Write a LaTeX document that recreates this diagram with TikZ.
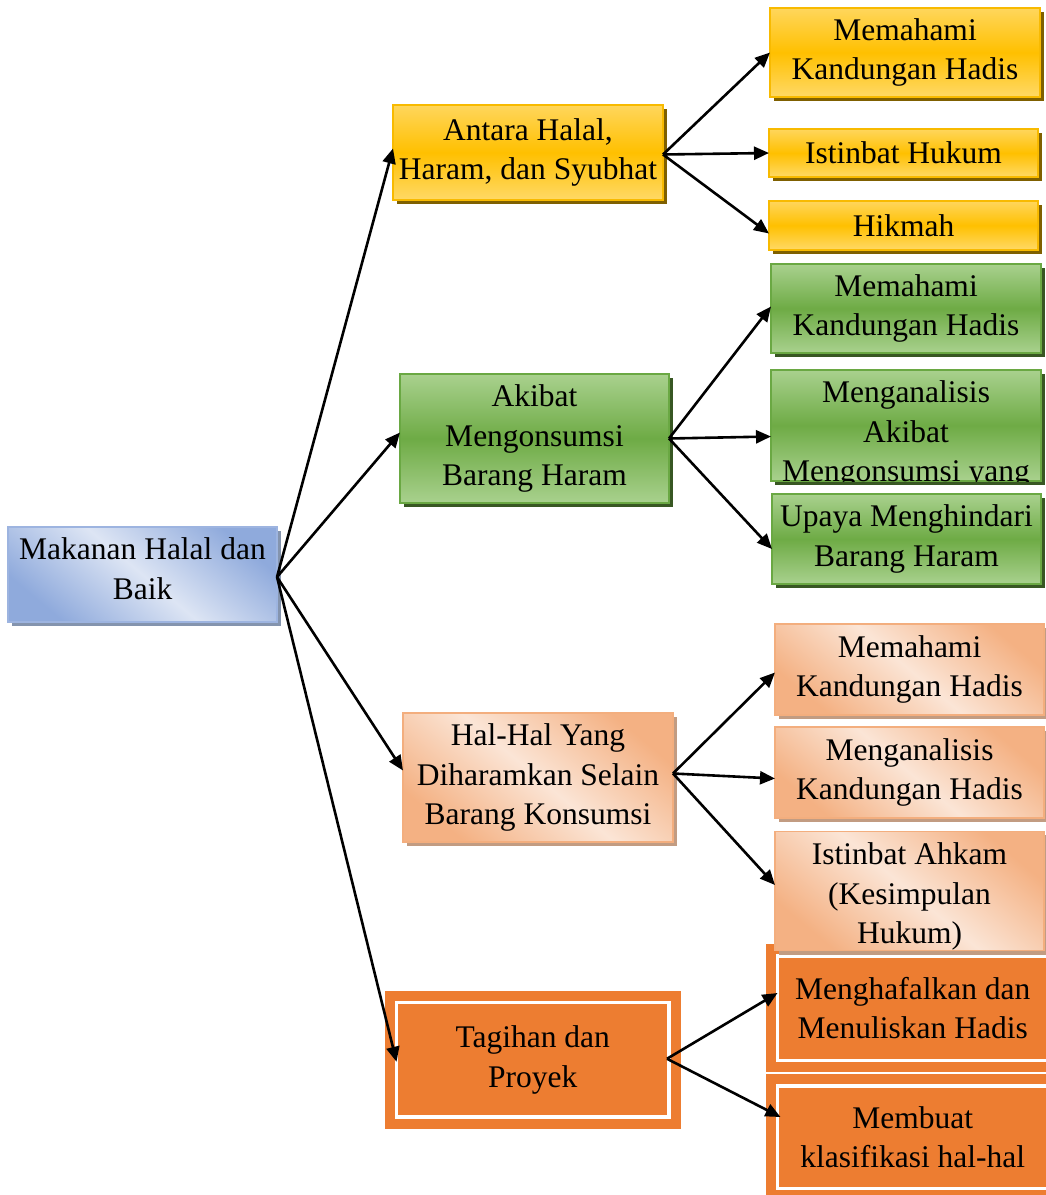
\documentclass[tikz,border=0pt]{standalone}
\usepackage{fontspec}
\setmainfont{Liberation Serif}
\usetikzlibrary{arrows.meta,shadows}

% palette
\definecolor{yelLight}{HTML}{FFD65C}
\definecolor{yelMid}{HTML}{FFC000}
\definecolor{yelLow}{HTML}{FFD966}
\definecolor{yelLine}{HTML}{F8BA00}
\definecolor{yelShade}{HTML}{7F6000}
\definecolor{grnLight}{HTML}{A9D18E}
\definecolor{grnMid}{HTML}{6EAB45}
\definecolor{grnLine}{HTML}{6AA843}
\definecolor{grnShade}{HTML}{385723}
\definecolor{bluDark}{HTML}{8FAADC}
\definecolor{bluLight}{HTML}{DDE5F4}
\definecolor{bluLine}{HTML}{9DB4E0}
\definecolor{bluShade}{HTML}{8494AE}
\definecolor{pchDark}{HTML}{F4B183}
\definecolor{pchLight}{HTML}{FBE5D6}
\definecolor{pchLine}{HTML}{F3AE7E}
\definecolor{pchShade}{HTML}{C29C82}
\definecolor{orgFill}{HTML}{ED7D31}

\newcommand\boxfont{\fontsize{31.5}{39.5}\selectfont}

\begin{document}
\begin{tikzpicture}[x=1pt,y=-1pt,
  txt/.style={font=\boxfont, align=center, text=black},
  card/.style={rectangle, inner sep=0pt, outer sep=0pt, txt,
    minimum width=#1},
  card/.default=270pt,
  yelcard/.style={card=#1, draw=yelLine, line width=1.5pt,
    top color=yelLight, bottom color=yelLow, middle color=yelMid,
    drop shadow={shadow xshift=4pt, shadow yshift=-4pt, fill=yelShade, opacity=1}},
  yelcard/.default=270pt,
  grncard/.style={card=#1, draw=grnLine, line width=1.5pt,
    top color=grnLight, bottom color=grnLight, middle color=grnMid,
    drop shadow={shadow xshift=4pt, shadow yshift=-4pt, fill=grnShade, opacity=1}},
  grncard/.default=270pt,
  blucard/.style={card=#1, draw=bluLine, line width=1.5pt,
    top color=bluDark, bottom color=bluDark, middle color=bluLight, shading angle=-40,
    drop shadow={shadow xshift=4pt, shadow yshift=-4pt, fill=bluShade, opacity=1}},
  blucard/.default=270pt,
  pchcard/.style={card=#1, draw=pchLine, line width=1.5pt,
    top color=pchDark, bottom color=pchDark, middle color=pchLight, shading angle=-40,
    drop shadow={shadow xshift=4pt, shadow yshift=-4pt, fill=pchShade, opacity=1}},
  pchcard/.default=270pt,
  orgcard/.style={card=#1, fill=orgFill, draw=orgFill, line width=10pt,
    double=white, double distance=3.5pt},
  orgcard/.default=270pt,
  link/.style={line width=2.6pt, -{Triangle[length=15pt, width=13pt]}}
]
\useasboundingbox (0,0) rectangle (1045,1195);
\fill[white] (0,0) rectangle (1045,1195);

% root
\node[blucard=269pt, minimum height=95pt, text depth=12pt] (root) at (142.5,574.5) {Makanan Halal dan\\Baik};

% first branch
\node[yelcard=270pt, minimum height=95pt] (y1) at (528,152.5) {Antara Halal,\\Haram, dan Syubhat};
\node[yelcard=270pt, minimum height=89pt] (ya) at (905,52.5) {Memahami\\Kandungan Hadis};
\node[yelcard=269pt, minimum height=48pt] (yb) at (903.5,153) {Istinbat Hukum};
\node[yelcard=269pt, minimum height=49pt] (yc) at (903.5,225.5) {Hikmah};

% second branch
\node[grncard=269pt, minimum height=129pt] (g1) at (534.5,438.5) {Akibat\\Mengonsumsi\\Barang Haram};
\node[grncard=270pt, minimum height=89pt] (ga) at (906,308.5) {Memahami\\Kandungan Hadis};
\node[grncard=270pt, minimum height=111pt] (gb) at (906,425.5) {};
\begin{scope}
  \clip (gb.south west) rectangle (gb.north east);
  \node[txt, inner sep=0pt, anchor=north] (gbtext) at ([yshift=-10.5pt]gb.north)
    {Menganalisis\\Akibat\\Mengonsumsi yang};
\end{scope}
\node[grncard=269pt, minimum height=90pt] (gc) at (906.5,539) {Upaya Menghindari\\Barang Haram};

% fourth branch (leaves lie under the peach leaf above them)
\node[orgcard=272.5pt, minimum height=114.5pt] (t1) at (532.75,1059.75) {Tagihan dan\\Proyek};
\node[orgcard=270.5pt, minimum height=104.5pt] (ta) at (912.75,1008) {Menghafalkan dan\\Menuliskan Hadis};
\node[orgcard=270.5pt, minimum height=102.5pt] (tb) at (912.75,1137) {Membuat\\klasifikasi hal-hal};

% third branch
\node[pchcard=270pt, minimum height=129pt] (p1) at (538,777.5) {Hal-Hal Yang\\Diharamkan Selain\\Barang Konsumsi};
\node[pchcard=269pt, minimum height=91pt] (pa) at (909.5,669.5) {Memahami\\Kandungan Hadis};
\node[pchcard=269pt, minimum height=91pt] (pb) at (909.5,772.5) {Menganalisis\\Kandungan Hadis};
\node[pchcard=269pt, minimum height=118pt, text height=112.5pt] (pc) at (909.5,891) {Istinbat Ahkam\\(Kesimpulan\\Hukum)};

% connectors from the root
\draw[link] ([yshift=-2.5pt]root.east) -- ([yshift=4pt]y1.west);
\draw[link] ([yshift=-2.5pt]root.east) -- ([yshift=6pt]g1.west);
\draw[link] ([yshift=-2.5pt]root.east) -- ([yshift=7pt]p1.west);
\draw[link] ([yshift=-2.5pt]root.east) -- ([yshift=-2pt]t1.west);

% connectors of the first branch
\draw[link] ([yshift=-2pt]y1.east) -- (ya.west);
\draw[link] ([yshift=-2pt]y1.east) -- (yb.west);
\draw[link] ([yshift=-2pt]y1.east) -- ([yshift=-8pt]yc.west);

% connectors of the second branch
\draw[link] (g1.east) -- ([yshift=2pt]ga.west);
\draw[link] (g1.east) -- ([yshift=-11pt]gb.west);
\draw[link] (g1.east) -- ([yshift=-10pt]gc.west);

% connectors of the third branch
\draw[link] ([yshift=4pt]p1.east) -- ([yshift=-3pt]pa.west);
\draw[link] ([yshift=4pt]p1.east) -- ([yshift=-6pt]pb.west);
\draw[link] ([yshift=4pt]p1.east) -- ([yshift=6pt]pc.west);

% connectors of the fourth branch
\draw[link] ([xshift=-2pt,yshift=1pt]t1.east) -- ([yshift=15pt]ta.west);
\draw[link] ([xshift=-2pt,yshift=1pt]t1.east) -- ([xshift=3pt,yshift=20pt]tb.west);
\end{tikzpicture}
\end{document}
